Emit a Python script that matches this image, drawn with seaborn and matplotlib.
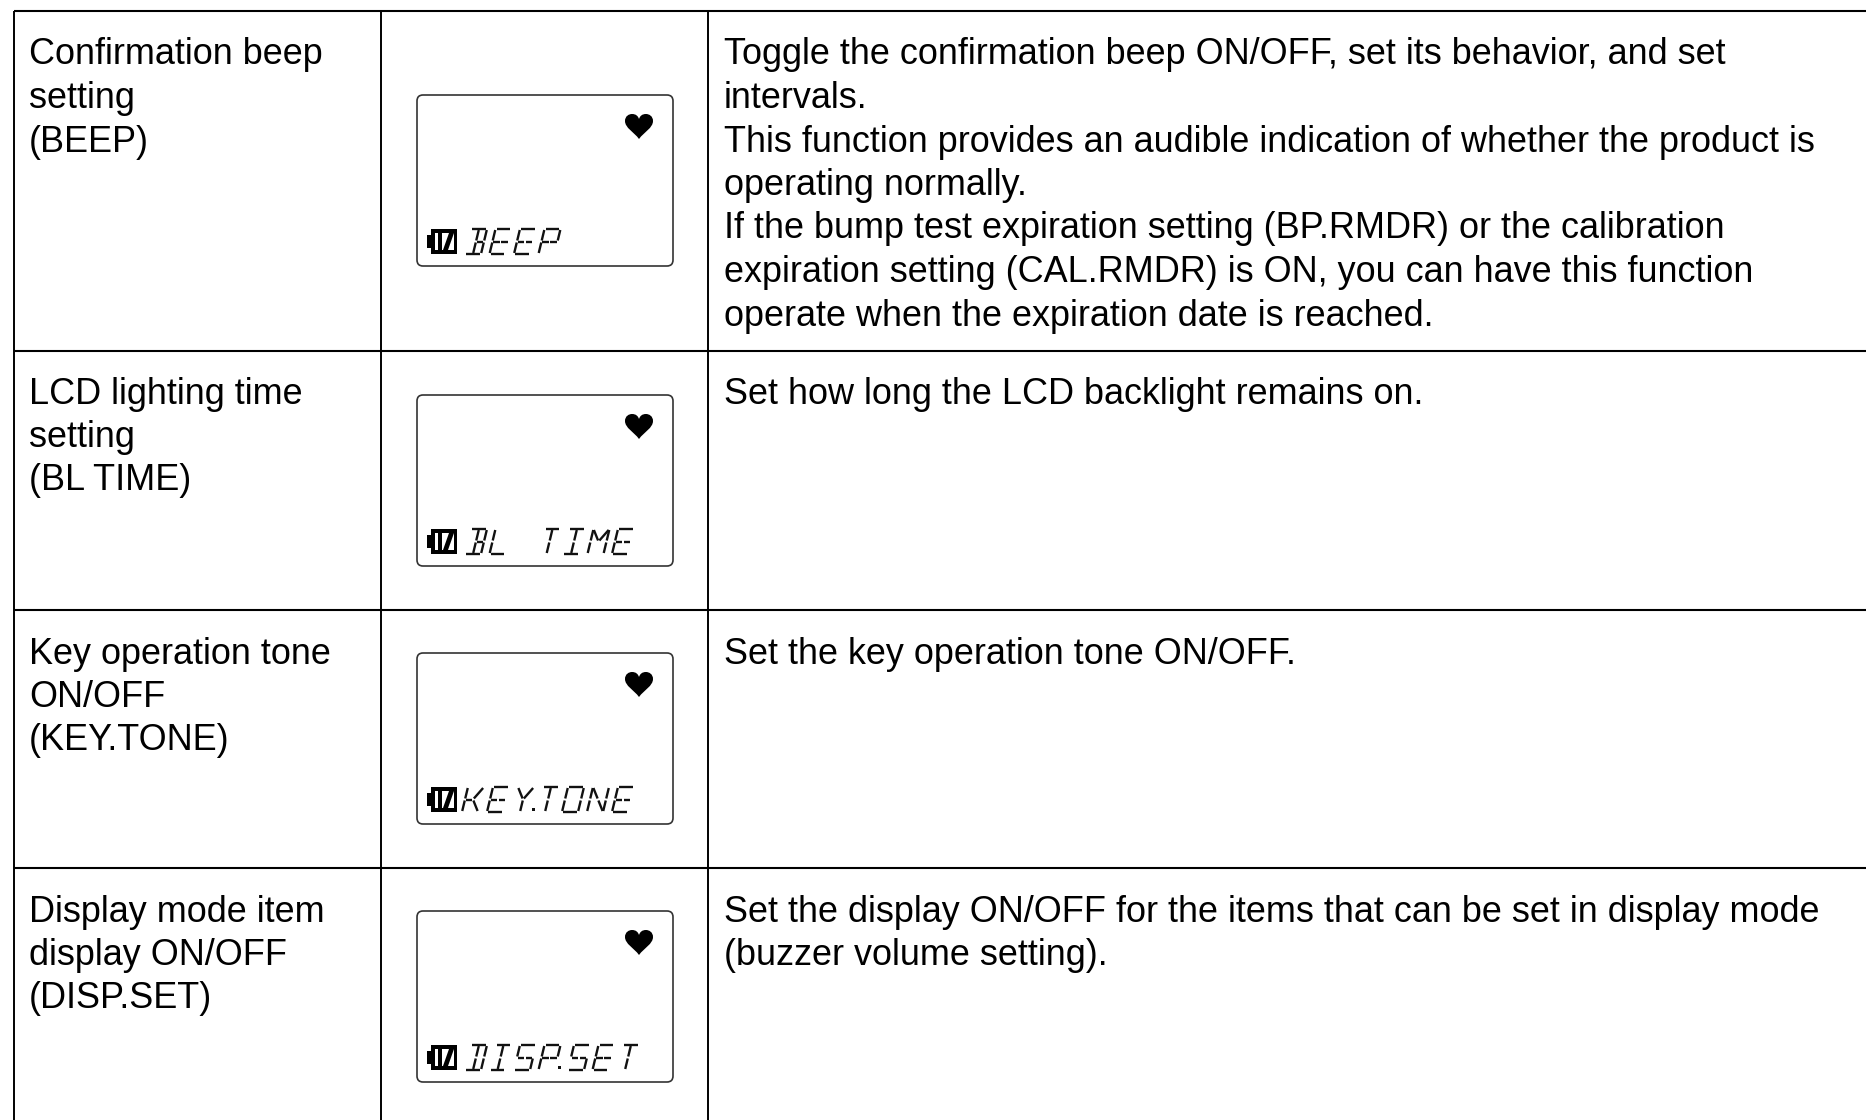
import matplotlib
matplotlib.use("Agg")
import matplotlib.pyplot as plt
from matplotlib.patches import FancyBboxPatch, Rectangle, Polygon, PathPatch
from matplotlib.path import Path
import seaborn as sns

# ========== Table content ==========
setting_lines = [
    ["Confirmation beep", "setting", "(BEEP)"],
    ["LCD lighting time", "setting", "(BL TIME)"],
    ["Key operation tone", "ON/OFF", "(KEY.TONE)"],
    ["Display mode item", "display ON/OFF", "(DISP.SET)"],
]
description_lines = [
    ["Toggle the confirmation beep ON/OFF, set its behavior, and set",
     "intervals.",
     "This function provides an audible indication of whether the product is",
     "operating normally.",
     "If the bump test expiration setting (BP.RMDR) or the calibration",
     "expiration setting (CAL.RMDR) is ON, you can have this function",
     "operate when the expiration date is reached."],
    ["Set how long the LCD backlight remains on."],
    ["Set the key operation tone ON/OFF."],
    ["Set the display ON/OFF for the items that can be set in display mode",
     "(buzzer volume setting)."],
]
lcd_words = ["BEEP", "BL TIME", "KEY.TONE", "DISP.SET"]

# ========== Layout (pixels) ==========
W, H = 1866, 1120
LEFT, COL1, COL2 = 14, 381, 708
ROW_LINES = [11, 351, 610, 868]
TEXT_OFFSET = [0, 339, 599, 857]
BOX_OFFSET = [0, 300, 558, 816]
LINE_STEP = 43.5
FONT_PT = 25.95
LCD_PITCH = [24.5, 24.5, 25, 24.5]
LCD_START = [465, 465, 462, 465]

# 14 segment display, each segment is a start/end in a unit cell
SEG = {
    "a": ((0, 1), (1, 1)), "d": ((0, 0), (1, 0)),
    "f": ((0, 1), (0, .5)), "e": ((0, .5), (0, 0)),
    "b": ((1, 1), (1, .5)), "c": ((1, .5), (1, 0)),
    "g": ((0, .5), (.5, .5)), "i": ((.5, .5), (1, .5)),
    "j": ((.5, 1), (.5, .5)), "m": ((.5, .5), (.5, 0)),
    "h": ((0, 1), (.5, .5)), "k": ((1, 1), (.5, .5)),
    "l": ((.5, .5), (1, 0)), "n": ((.5, .5), (0, 0)),
}
GLYPHS = {
    "B": "abcdijm", "E": "adefgi", "P": "abefgi", "L": "def", "T": "ajm",
    "I": "adjm", "M": "bcefhk", "K": "efgkl", "Y": "hkm", "O": "abcdef",
    "N": "bcefhl", "D": "abcdjm", "S": "acdfgi",
}

sns.set_theme(style="white")
plt.rcParams["font.family"] = ["Liberation Sans", "DejaVu Sans"]

fig, ax = plt.subplots(figsize=(W / 100, H / 100), dpi=100)
ax.set_position([0, 0, 1, 1])
ax.set_xlim(0, W)
ax.set_ylim(H, 0)
ax.axis("off")

# ========== Grid ==========
for y in ROW_LINES:
    ax.plot([LEFT, W], [y, y], color="black", lw=1.5, solid_capstyle="butt")
for x in [LEFT, COL1, COL2]:
    ax.plot([x, x], [ROW_LINES[0], H], color="black", lw=1.4, solid_capstyle="butt")


def draw_lcd_char(ch, x0, y0):
    cell_w, cell_h, slant = 16, 25, 6
    for name in GLYPHS.get(ch, ""):
        (x1, y1), (x2, y2) = SEG[name]
        # shorten so the segments do not touch
        gap = 0.08
        sx = x1 + (x2 - x1) * gap
        sy = y1 + (y2 - y1) * gap
        ex = x2 - (x2 - x1) * gap
        ey = y2 - (y2 - y1) * gap
        px = [x0 + sx * cell_w + sy * slant, x0 + ex * cell_w + ey * slant]
        py = [y0 - sy * cell_h, y0 - ey * cell_h]
        ax.plot(px, py, color="#111111", lw=1.7, solid_capstyle="butt")


def draw_heart(cx, top):
    # 28 px wide, 25 px tall
    verts = [
        (cx, top + 25),
        (cx - 5, top + 18), (cx - 14, top + 14), (cx - 14, top + 7),
        (cx - 14, top + 2), (cx - 10, top), (cx - 7, top),
        (cx - 3, top), (cx - 1, top + 2), (cx, top + 5),
        (cx + 1, top + 2), (cx + 3, top), (cx + 7, top),
        (cx + 10, top), (cx + 14, top + 2), (cx + 14, top + 7),
        (cx + 14, top + 14), (cx + 5, top + 18), (cx, top + 25),
    ]
    codes = [Path.MOVETO] + [Path.CURVE4] * 18
    ax.add_patch(PathPatch(Path(verts, codes), fc="black", ec="none"))


# ========== Rows ==========
for i in range(4):
    base = 64.5 + TEXT_OFFSET[i]
    for n, line in enumerate(setting_lines[i]):
        ax.text(29, base + n * LINE_STEP, line, fontsize=FONT_PT, color="black", va="baseline")
    for n, line in enumerate(description_lines[i]):
        ax.text(724, base + n * LINE_STEP, line, fontsize=FONT_PT, color="black", va="baseline")

    off = BOX_OFFSET[i]
    ax.add_patch(FancyBboxPatch((421, 99 + off), 248, 163, boxstyle="round,pad=4,rounding_size=6",
                                fc="white", ec="#333333", lw=1.2))
    draw_heart(639, 114 + off)

    # battery icon
    ax.add_patch(Rectangle((431, 229 + off), 26, 25, fc="black", ec="none"))
    ax.add_patch(Rectangle((427, 235 + off), 4, 13, fc="black", ec="none"))
    ax.add_patch(Rectangle((435, 233 + off), 19, 17, fc="white", ec="none"))
    ax.add_patch(Rectangle((438, 233 + off), 4, 17, fc="black", ec="none"))
    ax.add_patch(Polygon([(443, 250 + off), (448, 250 + off), (454, 233 + off), (449, 233 + off)],
                         fc="black", ec="none"))

    # LCD word
    x = LCD_START[i]
    for ch in lcd_words[i]:
        if ch == ".":
            ax.add_patch(Rectangle((x - 5, 250 + off), 3, 3, fc="#111111", ec="none"))
            if i == 3:
                x += 5
            continue
        draw_lcd_char(ch, x, 254 + off)
        x += LCD_PITCH[i]

fig.savefig("out.png", dpi=100)
